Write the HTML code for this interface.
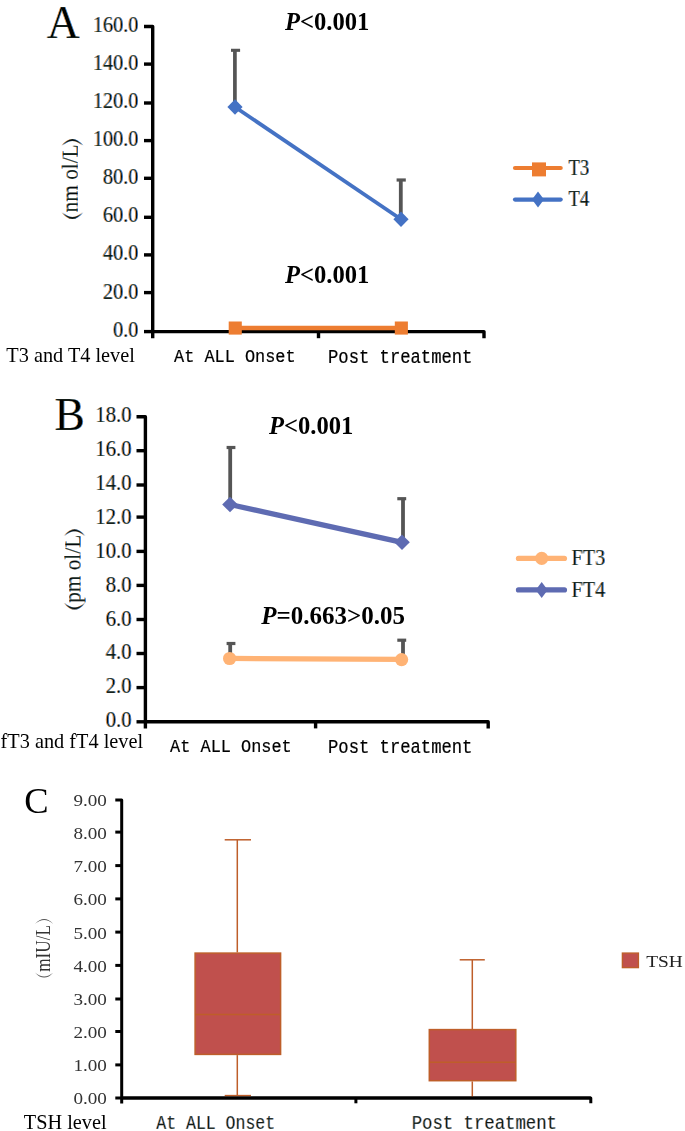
<!DOCTYPE html>
<html>
<head>
<meta charset="utf-8">
<title>Thyroid hormone levels</title>
<style>
html,body{margin:0;padding:0;background:#fff;}
body{width:685px;height:1131px;overflow:hidden;}
svg{display:block;position:absolute;left:0;top:0;}
.ser{font-family:"Liberation Serif",serif;}
.mono{font-family:"Liberation Mono",monospace;}
.tk{font-family:"Liberation Serif",serif;font-size:20.2px;fill:#1d1d33;}
.ax{stroke:#000;stroke-width:3.4;fill:none;stroke-linejoin:round;stroke-linecap:butt;}
.eb{stroke:#555;fill:none;}
.pv{font-family:"Liberation Serif",serif;font-weight:bold;font-size:24.6px;fill:#000;}
.lab{font-family:"Liberation Serif",serif;font-size:20.3px;fill:#000;}
.cat{font-family:"Liberation Mono",monospace;font-size:17px;fill:#000;stroke:#000;stroke-width:0.18px;}
</style>
</head>
<body>
<svg width="685" height="1131" viewBox="0 0 685 1131">
<rect x="0" y="0" width="685" height="1131" fill="#fff"/>

<!-- ================= CHART A ================= -->
<g id="chartA">
<g style="fill:#F0A050;stroke:none;mix-blend-mode:multiply" transform="translate(-0.5 0)"><text class="ser" x="46.7" y="37.8" font-size="45.5">A</text></g>
<g style="fill:#3E8EE2;stroke:none;mix-blend-mode:multiply" transform="translate(0.5 0)"><text class="ser" x="46.7" y="37.8" font-size="45.5">A</text></g>
<g style="fill:#000;stroke:#fff;stroke-width:0.7px;mix-blend-mode:multiply"><text class="ser" x="46.7" y="37.8" font-size="45.5">A</text></g>

<!-- axes -->
<path class="ax" d="M144 26.5 H152.7 V338.2"/>
<path class="ax" d="M152.7 331.6 H484 V338.2"/>
<path class="ax" d="M318.5 331.6 V338.2"/>
<g class="ax">
<path d="M144 64.1H152.7"/><path d="M144 103H152.7"/><path d="M144 140.6H152.7"/>
<path d="M144 178.3H152.7"/><path d="M144 217.3H152.7"/><path d="M144 254.9H152.7"/>
<path d="M144 292.6H152.7"/><path d="M144 331.6H152.7"/>
</g>

<!-- tick labels -->
<g class="tk" text-anchor="end" style="fill:#F0A050;stroke:none;mix-blend-mode:multiply" transform="translate(-0.6 0)">
<text transform="translate(138.3 31.6) scale(1 1.11)">160.0</text>
<text transform="translate(138.3 69.7) scale(1 1.11)">140.0</text>
<text transform="translate(138.3 107.9) scale(1 1.11)">120.0</text>
<text transform="translate(138.3 146) scale(1 1.11)">100.0</text>
<text transform="translate(138.3 184.2) scale(1 1.11)">80.0</text>
<text transform="translate(138.3 222.3) scale(1 1.11)">60.0</text>
<text transform="translate(138.3 260.4) scale(1 1.11)">40.0</text>
<text transform="translate(138.3 298.6) scale(1 1.11)">20.0</text>
<text transform="translate(138.3 336.7) scale(1 1.11)">0.0</text>
</g>
<g class="tk" text-anchor="end" style="fill:#3E8EE2;stroke:none;mix-blend-mode:multiply" transform="translate(0.6 0)">
<text transform="translate(138.3 31.6) scale(1 1.11)">160.0</text>
<text transform="translate(138.3 69.7) scale(1 1.11)">140.0</text>
<text transform="translate(138.3 107.9) scale(1 1.11)">120.0</text>
<text transform="translate(138.3 146) scale(1 1.11)">100.0</text>
<text transform="translate(138.3 184.2) scale(1 1.11)">80.0</text>
<text transform="translate(138.3 222.3) scale(1 1.11)">60.0</text>
<text transform="translate(138.3 260.4) scale(1 1.11)">40.0</text>
<text transform="translate(138.3 298.6) scale(1 1.11)">20.0</text>
<text transform="translate(138.3 336.7) scale(1 1.11)">0.0</text>
</g>
<g class="tk" text-anchor="end" style="fill:#15152a;stroke:#fff;stroke-width:0.6px;mix-blend-mode:multiply">
<text transform="translate(138.3 31.6) scale(1 1.11)">160.0</text>
<text transform="translate(138.3 69.7) scale(1 1.11)">140.0</text>
<text transform="translate(138.3 107.9) scale(1 1.11)">120.0</text>
<text transform="translate(138.3 146) scale(1 1.11)">100.0</text>
<text transform="translate(138.3 184.2) scale(1 1.11)">80.0</text>
<text transform="translate(138.3 222.3) scale(1 1.11)">60.0</text>
<text transform="translate(138.3 260.4) scale(1 1.11)">40.0</text>
<text transform="translate(138.3 298.6) scale(1 1.11)">20.0</text>
<text transform="translate(138.3 336.7) scale(1 1.11)">0.0</text>
</g>

<!-- y label -->
<g  style="fill:#F0A050;stroke:none;mix-blend-mode:multiply" transform="translate(-0.6 0)">
<path d="M61.9 145.6Q72.4 132.2 82.9 145.6Q72.4 136.2 61.9 145.6ZM61.9 212.3Q72.4 225.9 82.9 212.3Q72.4 221.9 61.9 212.3Z"/>
<text class="ser" transform="translate(77.6 178.4) rotate(-90) scale(1 1.05)" font-size="21.3" text-anchor="middle">nm ol/L</text>
</g>
<g  style="fill:#3E8EE2;stroke:none;mix-blend-mode:multiply" transform="translate(0.6 0)">
<path d="M61.9 145.6Q72.4 132.2 82.9 145.6Q72.4 136.2 61.9 145.6ZM61.9 212.3Q72.4 225.9 82.9 212.3Q72.4 221.9 61.9 212.3Z"/>
<text class="ser" transform="translate(77.6 178.4) rotate(-90) scale(1 1.05)" font-size="21.3" text-anchor="middle">nm ol/L</text>
</g>
<g  style="fill:#15152a;stroke:#fff;stroke-width:0.6px;mix-blend-mode:multiply">
<path d="M61.9 145.6Q72.4 132.2 82.9 145.6Q72.4 136.2 61.9 145.6ZM61.9 212.3Q72.4 225.9 82.9 212.3Q72.4 221.9 61.9 212.3Z"/>
<text class="ser" transform="translate(77.6 178.4) rotate(-90) scale(1 1.05)" font-size="21.3" text-anchor="middle">nm ol/L</text>
</g>

<!-- error bars -->
<g class="eb">
<path d="M234.9 50.3V107" stroke-width="3.7"/><path d="M231 50.3H240.1" stroke-width="3.1"/>
<path d="M400.8 180V219" stroke-width="3.8"/><path d="M396.6 180H405.8" stroke-width="3.2"/>
</g>

<!-- T3 -->
<path d="M235.2 328H401.3" stroke="#ED7D31" stroke-width="4.6" fill="none"/>
<rect x="228.7" y="321.5" width="13.1" height="13.1" fill="#ED7D31"/>
<rect x="394.8" y="321.5" width="13.1" height="13.1" fill="#ED7D31"/>

<!-- T4 -->
<path d="M235 107L401 219.3" stroke="#4472C4" stroke-width="3.8" fill="none"/>
<path d="M235 99.3L242.6 107L235 114.7L227.4 107Z" fill="#4472C4"/>
<path d="M401 211.6L408.6 219.3L401 227L393.4 219.3Z" fill="#4472C4"/>

<!-- P labels -->
<text class="pv" x="285" y="29.8"><tspan font-style="italic">P</tspan>&lt;0.001</text>
<text class="pv" x="285" y="283.3"><tspan font-style="italic">P</tspan>&lt;0.001</text>

<!-- legend -->
<path d="M515 168H560.7" stroke="#ED7D31" stroke-width="4.2" stroke-linecap="round" fill="none"/>
<rect x="532" y="162.4" width="14" height="14" fill="#ED7D31"/>
<path d="M515 199.6H560.7" stroke="#4472C4" stroke-width="4.2" stroke-linecap="round" fill="none"/>
<path d="M538 191.6L544 199.6L538 207.6L532 199.6Z" fill="#4472C4"/>
<g class="tk" style="fill:#F0A050;stroke:none;mix-blend-mode:multiply" transform="translate(-0.6 0)">
<text transform="translate(568.5 174.7) scale(0.92 1.11)">T3</text>
<text transform="translate(568.5 206.4) scale(0.92 1.11)">T4</text>
</g>
<g class="tk" style="fill:#3E8EE2;stroke:none;mix-blend-mode:multiply" transform="translate(0.6 0)">
<text transform="translate(568.5 174.7) scale(0.92 1.11)">T3</text>
<text transform="translate(568.5 206.4) scale(0.92 1.11)">T4</text>
</g>
<g class="tk" style="fill:#15152a;stroke:#fff;stroke-width:0.6px;mix-blend-mode:multiply">
<text transform="translate(568.5 174.7) scale(0.92 1.11)">T3</text>
<text transform="translate(568.5 206.4) scale(0.92 1.11)">T4</text>
</g>

<!-- bottom labels -->
<text class="lab" x="6.3" y="362">T3 and T4 level</text>
<text class="cat" style="font-size:16.9px" transform="translate(174 362.2) scale(1 1.14)">At ALL Onset</text>
<text class="cat" style="font-size:17.2px" transform="translate(328 362.8) scale(1 1.13)">Post treatment</text>
</g>

<!-- ================= CHART B ================= -->
<g id="chartB">
<g style="fill:#F0A050;stroke:none;mix-blend-mode:multiply" transform="translate(-0.5 0)"><text class="ser" x="54.5" y="429.5" font-size="45.5">B</text></g>
<g style="fill:#3E8EE2;stroke:none;mix-blend-mode:multiply" transform="translate(0.5 0)"><text class="ser" x="54.5" y="429.5" font-size="45.5">B</text></g>
<g style="fill:#000;stroke:#fff;stroke-width:0.7px;mix-blend-mode:multiply"><text class="ser" x="54.5" y="429.5" font-size="45.5">B</text></g>

<path class="ax" d="M136.5 416.7 H145.4 V728.4"/>
<path class="ax" d="M145.4 721.8 H488.2 V728.4"/>
<path class="ax" d="M315.6 721.8 V728.4"/>
<path class="ax" d="M136.5 721.8H145.4"/>
<g class="ax"><path d="M136.5 450.7H145.4"/><path d="M136.5 485.0H145.4"/><path d="M136.5 517.1H145.4"/><path d="M136.5 551.4H145.4"/><path d="M136.5 585.4H145.4"/><path d="M136.5 619.5H145.4"/><path d="M136.5 653.5H145.4"/><path d="M136.5 687.6H145.4"/></g>

<g class="tk" text-anchor="end" style="font-size:20.8px;fill:#F0A050;stroke:none;mix-blend-mode:multiply" transform="translate(-0.6 0)">
<text transform="translate(131.6 421.9) scale(1 1.08)">18.0</text>
<text transform="translate(131.6 455.9) scale(1 1.08)">16.0</text>
<text transform="translate(131.6 489.9) scale(1 1.08)">14.0</text>
<text transform="translate(131.6 524.2) scale(1 1.08)">12.0</text>
<text transform="translate(131.6 558.4) scale(1 1.08)">10.0</text>
<text transform="translate(131.6 592.4) scale(1 1.08)">8.0</text>
<text transform="translate(131.6 626.3) scale(1 1.08)">6.0</text>
<text transform="translate(131.6 658.8) scale(1 1.08)">4.0</text>
<text transform="translate(131.6 692.7) scale(1 1.08)">2.0</text>
<text transform="translate(131.6 727.0) scale(1 1.08)">0.0</text>
</g>
<g class="tk" text-anchor="end" style="font-size:20.8px;fill:#3E8EE2;stroke:none;mix-blend-mode:multiply" transform="translate(0.6 0)">
<text transform="translate(131.6 421.9) scale(1 1.08)">18.0</text>
<text transform="translate(131.6 455.9) scale(1 1.08)">16.0</text>
<text transform="translate(131.6 489.9) scale(1 1.08)">14.0</text>
<text transform="translate(131.6 524.2) scale(1 1.08)">12.0</text>
<text transform="translate(131.6 558.4) scale(1 1.08)">10.0</text>
<text transform="translate(131.6 592.4) scale(1 1.08)">8.0</text>
<text transform="translate(131.6 626.3) scale(1 1.08)">6.0</text>
<text transform="translate(131.6 658.8) scale(1 1.08)">4.0</text>
<text transform="translate(131.6 692.7) scale(1 1.08)">2.0</text>
<text transform="translate(131.6 727.0) scale(1 1.08)">0.0</text>
</g>
<g class="tk" text-anchor="end" style="font-size:20.8px;fill:#15152a;stroke:#fff;stroke-width:0.6px;mix-blend-mode:multiply">
<text transform="translate(131.6 421.9) scale(1 1.08)">18.0</text>
<text transform="translate(131.6 455.9) scale(1 1.08)">16.0</text>
<text transform="translate(131.6 489.9) scale(1 1.08)">14.0</text>
<text transform="translate(131.6 524.2) scale(1 1.08)">12.0</text>
<text transform="translate(131.6 558.4) scale(1 1.08)">10.0</text>
<text transform="translate(131.6 592.4) scale(1 1.08)">8.0</text>
<text transform="translate(131.6 626.3) scale(1 1.08)">6.0</text>
<text transform="translate(131.6 658.8) scale(1 1.08)">4.0</text>
<text transform="translate(131.6 692.7) scale(1 1.08)">2.0</text>
<text transform="translate(131.6 727.0) scale(1 1.08)">0.0</text>
</g>

<g  style="fill:#F0A050;stroke:none;mix-blend-mode:multiply" transform="translate(-0.6 0)">
<path d="M64.1 536Q74.5 522.6 84.9 536Q74.5 526.6 64.1 536ZM64.1 602.8Q74.5 616.4 84.9 602.8Q74.5 612.4 64.1 602.8Z"/>
<text class="ser" transform="translate(80.3 568.8) rotate(-90) scale(1 1.05)" font-size="21.3" text-anchor="middle">pm ol/L</text>
</g>
<g  style="fill:#3E8EE2;stroke:none;mix-blend-mode:multiply" transform="translate(0.6 0)">
<path d="M64.1 536Q74.5 522.6 84.9 536Q74.5 526.6 64.1 536ZM64.1 602.8Q74.5 616.4 84.9 602.8Q74.5 612.4 64.1 602.8Z"/>
<text class="ser" transform="translate(80.3 568.8) rotate(-90) scale(1 1.05)" font-size="21.3" text-anchor="middle">pm ol/L</text>
</g>
<g  style="fill:#15152a;stroke:#fff;stroke-width:0.6px;mix-blend-mode:multiply">
<path d="M64.1 536Q74.5 522.6 84.9 536Q74.5 526.6 64.1 536ZM64.1 602.8Q74.5 616.4 84.9 602.8Q74.5 612.4 64.1 602.8Z"/>
<text class="ser" transform="translate(80.3 568.8) rotate(-90) scale(1 1.05)" font-size="21.3" text-anchor="middle">pm ol/L</text>
</g>

<g class="eb">
<path d="M230.2 447.5V504" stroke-width="3.8"/><path d="M226.6 447.5H235.4" stroke-width="3.2"/>
<path d="M403 498.7V542" stroke-width="3.8"/><path d="M397.3 498.7H406.2" stroke-width="3.2"/>
<path d="M230.2 643.5V658" stroke-width="3.8"/><path d="M226.6 643.5H235.4" stroke-width="3.2"/>
<path d="M403 640.2V659" stroke-width="3.8"/><path d="M397.3 640.2H406.2" stroke-width="3.2"/>
</g>

<!-- FT3 -->
<path d="M229.6 658.4L401.6 659.4" stroke="#FFB375" stroke-width="5.3" fill="none"/>
<circle cx="229.6" cy="658.5" r="6.6" fill="#FFB375"/>
<circle cx="401.6" cy="659.6" r="6.6" fill="#FFB375"/>

<!-- FT4 -->
<path d="M230 504.5L402 542.3" stroke="#5E6BB2" stroke-width="5.3" fill="none"/>
<path d="M230 496.7L237.8 504.5L230 512.3L222.2 504.5Z" fill="#5E6BB2"/>
<path d="M402 534.5L409.8 542.3L402 550.1L394.2 542.3Z" fill="#5E6BB2"/>

<text class="pv" x="269" y="434.2"><tspan font-style="italic">P</tspan>&lt;0.001</text>
<text class="pv" style="font-size:25px" x="261.3" y="624.2"><tspan font-style="italic">P</tspan>=0.663&gt;0.05</text>

<path d="M518.5 558.4H564.4" stroke="#FFB375" stroke-width="5.3" stroke-linecap="round" fill="none"/>
<circle cx="541.7" cy="558.4" r="6.6" fill="#FFB375"/>
<path d="M518.5 589.9H564.4" stroke="#5E6BB2" stroke-width="5.3" stroke-linecap="round" fill="none"/>
<path d="M541.7 581.9L547.7 589.9L541.7 597.9L535.7 589.9Z" fill="#5E6BB2"/>
<g class="tk" style="fill:#F0A050;stroke:none;mix-blend-mode:multiply" transform="translate(-0.6 0)">
<text transform="translate(571.5 565) scale(1 1.11)">FT3</text>
<text transform="translate(571.5 597.3) scale(1 1.11)">FT4</text>
</g>
<g class="tk" style="fill:#3E8EE2;stroke:none;mix-blend-mode:multiply" transform="translate(0.6 0)">
<text transform="translate(571.5 565) scale(1 1.11)">FT3</text>
<text transform="translate(571.5 597.3) scale(1 1.11)">FT4</text>
</g>
<g class="tk" style="fill:#15152a;stroke:#fff;stroke-width:0.6px;mix-blend-mode:multiply">
<text transform="translate(571.5 565) scale(1 1.11)">FT3</text>
<text transform="translate(571.5 597.3) scale(1 1.11)">FT4</text>
</g>

<text class="lab" x="0.6" y="747.8">fT3 and fT4 level</text>
<text class="cat" style="font-size:16.9px" transform="translate(170.1 752.2) scale(1 1.14)">At ALL Onset</text>
<text class="cat" style="font-size:17.2px" transform="translate(328 752.8) scale(1 1.13)">Post treatment</text>
</g>


<!-- ================= CHART C ================= -->
<g id="chartC">
<text class="ser" x="24.2" y="813.4" font-size="36.5" fill="#000">C</text>

<path class="ax" style="stroke-width:3" d="M115.3 799.9 H121.7 V1103.4"/>
<path class="ax" style="stroke-width:3" d="M121.7 1098 H590.8 V1103.3"/>
<path class="ax" style="stroke-width:3" d="M355.9 1098 V1103.3"/>
<path class="ax" style="stroke-width:3" d="M115.3 1098.0H121.7"/>
<g class="ax" style="stroke-width:3"><path d="M115.3 832.1H121.7"/><path d="M115.3 865.6H121.7"/><path d="M115.3 898.9H121.7"/><path d="M115.3 932.1H121.7"/><path d="M115.3 965.4H121.7"/><path d="M115.3 999.0H121.7"/><path d="M115.3 1031.5H121.7"/><path d="M115.3 1064.9H121.7"/></g>

<g class="ser" font-size="16.5" fill="#333" text-anchor="end">
<text transform="translate(106.9 806.4) scale(1.16 1)">9.00</text>
<text transform="translate(106.9 839.0) scale(1.16 1)">8.00</text>
<text transform="translate(106.9 872.2) scale(1.16 1)">7.00</text>
<text transform="translate(106.9 905.4) scale(1.16 1)">6.00</text>
<text transform="translate(106.9 938.7) scale(1.16 1)">5.00</text>
<text transform="translate(106.9 971.5) scale(1.16 1)">4.00</text>
<text transform="translate(106.9 1004.6) scale(1.16 1)">3.00</text>
<text transform="translate(106.9 1037.9) scale(1.16 1)">2.00</text>
<text transform="translate(106.9 1071.1) scale(1.16 1)">1.00</text>
<text transform="translate(106.9 1104.2) scale(1.16 1)">0.00</text>
</g>

<path fill="#555" d="M35 924Q44.15 914.0 53.3 924Q44.15 916.2 35 924ZM35 972.4Q44.15 982.8 53.3 972.4Q44.15 980.6 35 972.4Z"/>
<text class="ser" transform="translate(50.2 948.4) rotate(-90) scale(0.85 1)" font-size="20.2" fill="#333" text-anchor="middle">mIU/L</text>

<!-- box 1 -->
<g stroke="#BE5E2A" stroke-width="1.5" fill="none">
<path d="M237.3 839.8V952.4"/><path d="M224.7 839.8H251"/>
<path d="M237.3 1055.1V1095.6"/><path d="M224.7 1095.6H251"/>
<rect x="195.1" y="953.1" width="85.5" height="101.3" fill="#C0504D"/>
<path d="M195.1 1014.5H280.6"/>
</g>
<!-- box 2 -->
<g stroke="#BE5E2A" stroke-width="1.5" fill="none">
<path d="M472.3 959.8V1029"/><path d="M459.7 959.8H484.8"/>
<path d="M472.3 1081.4V1097"/>
<rect x="429.3" y="1029.6" width="86.5" height="51.1" fill="#C0504D"/>
<path d="M429.3 1062.2H515.8"/>
</g>
<!-- redraw axis over whisker bottom -->
<path class="ax" style="stroke-width:3" d="M121.7 1098 H590.8"/>

<rect x="622.4" y="953.1" width="16" height="14.5" fill="#C0504D" stroke="#BE5E2A" stroke-width="1.4"/>
<text class="ser" transform="translate(646.2 967.4) scale(1.1 1)" font-size="17.6" fill="#222">TSH</text>

<text class="lab" x="23.8" y="1128.5">TSH level</text>
<g  style="fill:#F3B070;stroke:none;mix-blend-mode:multiply" transform="translate(-0.5 0)">
<text class="mono" font-size="16.5" transform="translate(156.3 1128.5) scale(1 1.2)">At ALL Onset</text>
</g>
<g  style="fill:#5A9EE6;stroke:none;mix-blend-mode:multiply" transform="translate(0.5 0)">
<text class="mono" font-size="16.5" transform="translate(156.3 1128.5) scale(1 1.2)">At ALL Onset</text>
</g>
<g  style="fill:#333;stroke:#fff;stroke-width:0.35px;mix-blend-mode:multiply">
<text class="mono" font-size="16.5" transform="translate(156.3 1128.5) scale(1 1.2)">At ALL Onset</text>
</g>
<g  style="fill:#F3B070;stroke:none;mix-blend-mode:multiply" transform="translate(-0.5 0)">
<text class="mono" font-size="17.3" transform="translate(411.7 1129.3) scale(1 1.16)">Post treatment</text>
</g>
<g  style="fill:#5A9EE6;stroke:none;mix-blend-mode:multiply" transform="translate(0.5 0)">
<text class="mono" font-size="17.3" transform="translate(411.7 1129.3) scale(1 1.16)">Post treatment</text>
</g>
<g  style="fill:#333;stroke:#fff;stroke-width:0.35px;mix-blend-mode:multiply">
<text class="mono" font-size="17.3" transform="translate(411.7 1129.3) scale(1 1.16)">Post treatment</text>
</g>
</g>


</svg>
</body>
</html>
